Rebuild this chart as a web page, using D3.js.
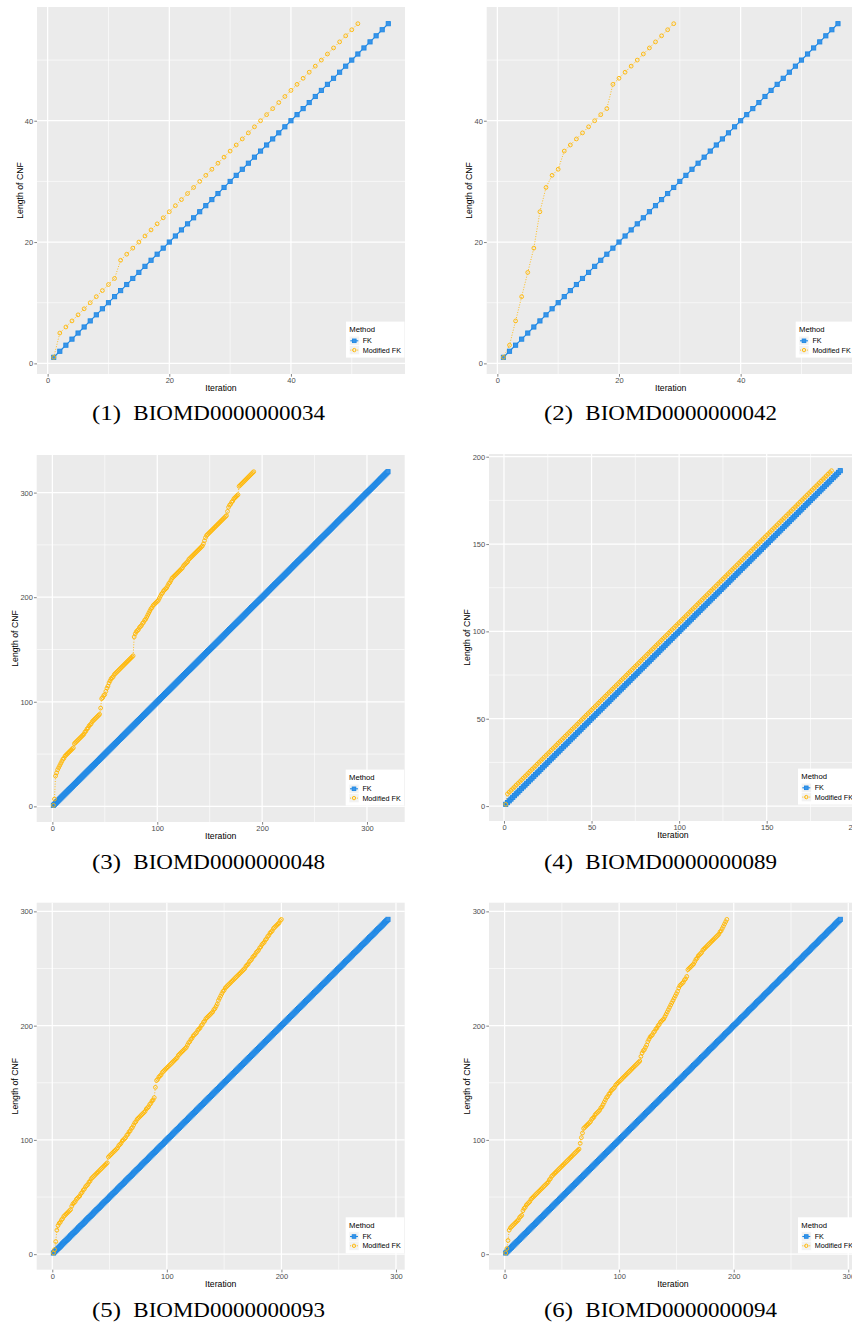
<!DOCTYPE html>
<html>
<head>
<meta charset="utf-8">
<script src="https://cdn.jsdelivr.net/npm/d3@7"></script>
<style>
  html, body { margin: 0; padding: 0; background: #ffffff; }
  svg { display: block; }
</style>
</head>
<body>
<svg id="fig" width="852" height="1324"></svg>
<script>
// ---- data -------------------------------------------------------------
const models = ["BIOMD0000000034", "BIOMD0000000042", "BIOMD0000000048",
                "BIOMD0000000089", "BIOMD0000000093", "BIOMD0000000094"];
const methods = ["FK", "Modified FK"];

// FK adds exactly one clause per iteration, so its CNF length equals the
// iteration number; only the number of iterations differs per model.
const fkIterations = [56, 56, 320, 192, 293, 293];

// Modified FK: CNF length after each iteration (iteration 1, 2, ...)
const modFK034 = [1, 5, 6, 7, 8, 9, 10, 11, 12, 13, 14,
  17, 18, 19, 20, 21, 22, 23, 24, 25, 26, 27, 28, 29, 30, 31, 32, 33, 34, 35, 36,
  37, 38, 39, 40, 41, 42, 43, 44, 45, 46, 47, 48, 49, 50, 51, 52, 53, 54, 55, 56];

const modFK042 = [1, 3, 7, 11, 15, 19, 25, 29, 31, 32, 35, 36, 37, 38, 39, 40, 41, 42,
  46, 47, 48, 49, 50, 51, 52, 53, 54, 55, 56];

const modFK048 = [
  1, 7, 29, 32, 35, 37, 39, 41, 43, 45,
  46, 48, 49, 50, 51, 52, 53, 54, 55, 56,
  60, 61, 62, 63, 64, 65, 66, 67, 68, 69,
  71, 72, 74, 75, 77, 78, 79, 81, 82, 83,
  84, 85, 86, 87, 88, 94, 103, 104, 106, 107,
  110, 113, 115, 118, 120, 122, 123, 124, 126, 127,
  128, 129, 130, 131, 132, 133, 134, 135, 136, 137,
  138, 139, 140, 141, 142, 143, 144, 162, 165, 167,
  168, 169, 171, 172, 173, 175, 176, 178, 179, 181,
  183, 185, 187, 189, 190, 192, 193, 194, 195, 196,
  197, 199, 201, 203, 204, 206, 207, 208, 209, 211,
  213, 214, 216, 218, 219, 220, 221, 222, 223, 224,
  225, 226, 227, 228, 230, 231, 232, 233, 234, 236,
  237, 238, 239, 240, 241, 242, 243, 244, 245, 246,
  247, 248, 249, 251, 254, 257, 259, 260, 261, 262,
  263, 264, 265, 266, 267, 268, 269, 270, 271, 272,
  273, 274, 275, 276, 277, 278, 282, 286, 288, 289,
  291, 292, 294, 295, 296, 297, 298, 306, 307, 308,
  309, 310, 311, 312, 313, 314, 315, 316, 317, 318,
  319, 320];

const modFK089 = [1,
  7, 8, 9, 10, 11, 12, 13, 14, 15, 16, 17, 18, 19, 20, 21, 22, 23, 24, 25, 26,
  27, 28, 29, 30, 31, 32, 33, 34, 35, 36, 37, 38, 39, 40, 41, 42, 43, 44, 45, 46,
  47, 48, 49, 50, 51, 52, 53, 54, 55, 56, 57, 58, 59, 60, 61, 62, 63, 64, 65, 66,
  67, 68, 69, 70, 71, 72, 73, 74, 75, 76, 77, 78, 79, 80, 81, 82, 83, 84, 85, 86,
  87, 88, 89, 90, 91, 92, 93, 94, 95, 96, 97, 98, 99, 100, 101, 102, 103, 104, 105, 106,
  107, 108, 109, 110, 111, 112, 113, 114, 115, 116, 117, 118, 119, 120, 121, 122, 123, 124, 125, 126,
  127, 128, 129, 130, 131, 132, 133, 134, 135, 136, 137, 138, 139, 140, 141, 142, 143, 144, 145, 146,
  147, 148, 149, 150, 151, 152, 153, 154, 155, 156, 157, 158, 159, 160, 161, 162, 163, 164, 165, 166,
  167, 168, 169, 170, 171, 172, 173, 174, 175, 176, 177, 178, 179, 180, 181, 182, 183, 184, 185, 186,
  187, 188, 189, 190, 191, 192];

const modFK093 = [
  1, 4, 11, 21, 25, 27, 28, 30, 31, 33,
  34, 35, 36, 37, 38, 39, 42, 44, 45, 46,
  48, 49, 50, 51, 53, 54, 56, 57, 59, 60,
  61, 63, 64, 66, 67, 68, 69, 70, 71, 72,
  73, 74, 75, 76, 77, 78, 79, 80, 85, 86,
  87, 88, 89, 90, 91, 92, 93, 95, 96, 97,
  99, 100, 101, 102, 104, 105, 107, 108, 110, 111,
  113, 115, 116, 118, 119, 120, 121, 122, 123, 124,
  125, 127, 128, 129, 131, 132, 134, 135, 137, 146,
  152, 153, 155, 156, 157, 159, 160, 161, 162, 163,
  164, 165, 166, 167, 168, 169, 170, 171, 172, 174,
  175, 176, 177, 178, 179, 180, 181, 183, 185, 186,
  188, 189, 191, 192, 193, 194, 196, 197, 198, 200,
  201, 203, 204, 206, 207, 208, 209, 210, 211, 212,
  214, 215, 217, 219, 222, 224, 226, 228, 230, 231,
  233, 234, 235, 236, 237, 238, 239, 240, 241, 242,
  243, 244, 245, 246, 247, 248, 249, 250, 252, 253,
  254, 256, 257, 258, 260, 261, 262, 264, 265, 266,
  268, 269, 271, 272, 273, 275, 276, 278, 279, 281,
  282, 283, 285, 286, 287, 288, 289, 290, 292, 293];

const modFK094 = [
  1, 5, 12, 21, 23, 24, 25, 26, 27, 28,
  29, 30, 32, 33, 34, 38, 40, 41, 43, 44,
  45, 46, 48, 49, 50, 51, 52, 53, 54, 55,
  56, 57, 58, 59, 60, 61, 62, 63, 65, 66,
  68, 69, 70, 71, 72, 73, 74, 75, 76, 77,
  78, 79, 80, 81, 82, 83, 84, 85, 86, 87,
  88, 89, 90, 91, 92, 97, 102, 106, 110, 111,
  112, 113, 114, 115, 116, 118, 119, 120, 122, 123,
  124, 125, 126, 128, 129, 131, 133, 135, 137, 138,
  140, 141, 143, 144, 145, 146, 148, 149, 150, 151,
  152, 153, 154, 155, 156, 157, 158, 159, 160, 161,
  162, 163, 164, 165, 166, 167, 168, 169, 173, 176,
  178, 179, 181, 183, 186, 188, 190, 191, 192, 194,
  195, 197, 198, 200, 201, 203, 204, 205, 206, 208,
  210, 212, 214, 216, 218, 220, 222, 224, 226, 228,
  230, 233, 235, 236, 237, 238, 240, 241, 243, 249,
  250, 251, 252, 253, 254, 256, 258, 259, 261, 262,
  263, 264, 266, 267, 268, 269, 270, 271, 272, 273,
  274, 275, 276, 277, 278, 279, 280, 282, 283, 285,
  287, 289, 291, 293];

const modifiedFK = [modFK034, modFK042, modFK048, modFK089, modFK093, modFK094];

// spacing of the labelled breaks on both axes of each panel
const breakSteps = [20, 20, 100, 50, 100, 100];

// ---- layout & style ---------------------------------------------------
const PW = 368, PH = 367;
const layout = [
  { left: 37.0,  top: 7.0,   capX: 208.5, capY: 420.0 },
  { left: 486.7, top: 7.0,   capX: 660.5, capY: 420.0 },
  { left: 36.7,  top: 455.0, capX: 208.5, capY: 868.5 },
  { left: 489.0, top: 454.0, capX: 660.5, capY: 868.5 },
  { left: 36.7,  top: 902.7, capX: 208.5, capY: 1317.0 },
  { left: 489.0, top: 902.7, capX: 660.5, capY: 1317.0 }
];
const colors = { "FK": "#1E88E5", "Modified FK": "#FFB80A" };
const SANS = "'Liberation Sans', Arial, Helvetica, sans-serif";
const SERIF = "'Liberation Serif', 'Times New Roman', serif";

const svg = d3.select("#fig");

function expand(ext) {
  const r = ext[1] - ext[0];
  return [ext[0] - 0.05 * r, ext[1] + 0.05 * r];
}
function breaksFor(dom, step, offset) {
  const out = [];
  const k0 = Math.ceil(dom[0] / step - offset), k1 = Math.floor(dom[1] / step - offset);
  for (let k = k0; k <= k1; k++) out.push((k + offset) * step);
  return out;
}

function drawFKPoint(sel, cx, cy, s) {
  sel.append("rect")
    .attr("x", cx - s / 2).attr("y", cy - s / 2)
    .attr("width", s).attr("height", s)
    .attr("fill", "#3A95E8").attr("stroke", colors["FK"]).attr("stroke-width", 0.9);
}
function drawModPoint(sel, cx, cy, r) {
  sel.append("circle")
    .attr("cx", cx).attr("cy", cy).attr("r", r)
    .attr("fill", "none").attr("stroke", colors["Modified FK"]).attr("stroke-width", 0.95);
}

function drawPanel(i) {
  const L = layout[i];
  const fk = d3.range(1, fkIterations[i] + 1).map(t => ({ x: t, y: t }));
  const mod = modifiedFK[i].map((v, k) => ({ x: k + 1, y: v }));
  const both = fk.concat(mod);

  const x = d3.scaleLinear().domain(expand(d3.extent(both, d => d.x))).range([L.left, L.left + PW]);
  const y = d3.scaleLinear().domain(expand(d3.extent(both, d => d.y))).range([L.top + PH, L.top]);

  const g = svg.append("g").attr("class", "panel");
  const right = L.left + PW, bottom = L.top + PH;

  // panel background + grid
  g.append("rect").attr("x", L.left).attr("y", L.top)
    .attr("width", PW).attr("height", PH).attr("fill", "#EBEBEB");

  const step = breakSteps[i];
  const xMaj = breaksFor(x.domain(), step, 0), yMaj = breaksFor(y.domain(), step, 0);
  const xMin = breaksFor(x.domain(), step, 0.5), yMin = breaksFor(y.domain(), step, 0.5);

  const grid = g.append("g").attr("stroke", "#FFFFFF");
  grid.selectAll(".vmin").data(xMin).join("line")
    .attr("x1", d => x(d)).attr("x2", d => x(d)).attr("y1", L.top).attr("y2", bottom)
    .attr("stroke-width", 0.6);
  grid.selectAll(".hmin").data(yMin).join("line")
    .attr("y1", d => y(d)).attr("y2", d => y(d)).attr("x1", L.left).attr("x2", right)
    .attr("stroke-width", 0.6);
  grid.selectAll(".vmaj").data(xMaj).join("line")
    .attr("x1", d => x(d)).attr("x2", d => x(d)).attr("y1", L.top).attr("y2", bottom)
    .attr("stroke-width", 1.25);
  grid.selectAll(".hmaj").data(yMaj).join("line")
    .attr("y1", d => y(d)).attr("y2", d => y(d)).attr("x1", L.left).attr("x2", right)
    .attr("stroke-width", 1.25);

  // lines
  const line = d3.line().x(d => x(d.x)).y(d => y(d.y));
  g.append("path").datum(fk).attr("d", line)
    .attr("fill", "none").attr("stroke", colors["FK"]).attr("stroke-width", 1.1);
  g.append("path").datum(mod).attr("d", line)
    .attr("fill", "none").attr("stroke", colors["Modified FK"]).attr("stroke-width", 0.9)
    .attr("stroke-dasharray", "1,1.6");

  // points
  const pts = g.append("g");
  fk.forEach(d => drawFKPoint(pts, x(d.x), y(d.y), 4.2));
  mod.forEach(d => drawModPoint(pts, x(d.x), y(d.y), 1.9));

  // axes
  const fmt = d3.format("d");
  const ay = g.append("g").attr("transform", `translate(${L.left},0)`)
    .call(d3.axisLeft(y).tickValues(yMaj).tickSize(2.7).tickPadding(1.1).tickFormat(fmt));
  const ax = g.append("g").attr("transform", `translate(0,${bottom})`)
    .call(d3.axisBottom(x).tickValues(xMaj).tickSize(2.7).tickPadding(1.0).tickFormat(fmt));
  [ay, ax].forEach(a => {
    a.attr("font-family", SANS).attr("font-size", 7.5);
    a.select(".domain").remove();
    a.selectAll(".tick line").attr("stroke", "#333333").attr("stroke-width", 0.6);
    a.selectAll(".tick text").attr("fill", "#4D4D4D");
  });

  let maxW = 0;
  ay.selectAll(".tick text").each(function () { maxW = Math.max(maxW, this.getComputedTextLength()); });

  // axis titles
  g.append("text")
    .attr("x", (L.left + right) / 2).attr("y", bottom + 17.2)
    .attr("text-anchor", "middle").attr("font-family", SANS).attr("font-size", 8.7)
    .attr("fill", "#000").text("Iteration");
  const tx = L.left - 3.8 - maxW - 2.3;
  g.append("text")
    .attr("transform", `translate(${tx},${(L.top + bottom) / 2}) rotate(-90)`)
    .attr("text-anchor", "middle").attr("font-family", SANS).attr("font-size", 8.7)
    .attr("fill", "#000").text("Length of CNF");

  // legend
  const lg = g.append("g").attr("transform", `translate(${right - 59},${bottom - 52.4})`);
  lg.append("rect").attr("width", 58.5).attr("height", 36).attr("fill", "#FFFFFF");
  lg.append("text").attr("x", 3.3).attr("y", 10.4)
    .attr("font-family", SANS).attr("font-size", 7.7).attr("fill", "#000").text("Method");
  methods.forEach((m, k) => {
    const cy = 19.2 + k * 9.3;
    lg.append("rect").attr("x", 3.3).attr("y", cy - 4.65).attr("width", 10).attr("height", 9.3)
      .attr("fill", "#F2F2F2").attr("stroke", "#FFFFFF").attr("stroke-width", 0.6);
    const seg = lg.append("line").attr("x1", 4.3).attr("x2", 12.3).attr("y1", cy).attr("y2", cy)
      .attr("stroke", colors[m]).attr("stroke-width", k === 0 ? 1.1 : 0.9);
    if (k === 1) seg.attr("stroke-dasharray", "1,1.3");
    if (k === 0) drawFKPoint(lg, 8.3, cy, 3.6); else drawModPoint(lg, 8.3, cy, 1.7);
    lg.append("text").attr("x", 16.7).attr("y", cy + 2.5)
      .attr("font-family", SANS).attr("font-size", 7.2).attr("fill", "#000").text(m);
  });

  // caption: "(n)" label followed by the model identifier
  const capL = L.capX - 116.5;
  svg.append("text").attr("x", capL).attr("y", L.capY)
    .attr("font-family", SERIF).attr("font-size", 20.5).attr("fill", "#000")
    .attr("textLength", 29).attr("lengthAdjust", "spacingAndGlyphs")
    .text(`(${i + 1})`);
  svg.append("text").attr("x", L.capX + 116.5).attr("y", L.capY)
    .attr("text-anchor", "end")
    .attr("font-family", SERIF).attr("font-size", 20.5).attr("fill", "#000")
    .attr("textLength", 191.7).attr("lengthAdjust", "spacingAndGlyphs")
    .text(models[i]);
}

models.forEach((_, i) => drawPanel(i));
</script>
</body>
</html>
